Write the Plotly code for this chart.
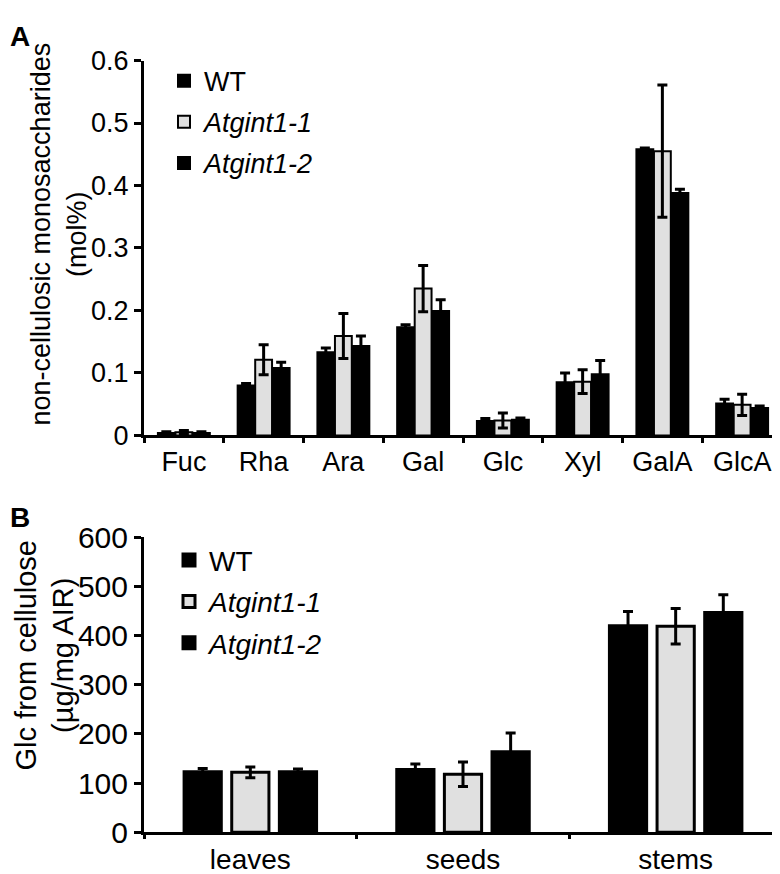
import plotly.graph_objects as go

# ---------------- data ----------------
sugars = ["Fuc", "Rha", "Ara", "Gal", "Glc", "Xyl", "GalA", "GlcA"]
wt_a = [0.004, 0.080, 0.133, 0.173, 0.023, 0.085, 0.458, 0.051]
wt_a_err = [0.002, 0.003, 0.007, 0.004, 0.004, 0.015, 0.002, 0.007]
g11_a = [0.005, 0.121, 0.159, 0.235, 0.024, 0.086, 0.455, 0.049]
g11_a_err = [0.003, 0.024, 0.036, 0.037, 0.012, 0.019, 0.106, 0.017]
g12_a = [0.004, 0.108, 0.143, 0.199, 0.025, 0.098, 0.388, 0.044]
g12_a_err = [0.002, 0.009, 0.016, 0.018, 0.003, 0.022, 0.006, 0.003]

tissues = ["leaves", "seeds", "stems"]
wt_b = [123, 128, 420]
wt_b_err = [7, 11, 29]
g11_b = [122, 118, 419]
g11_b_err = [11, 25, 36]
g12_b = [123, 164, 447]
g12_b_err = [6, 38, 36]

series_names = ["WT", "<i>Atgint1-1</i>", "<i>Atgint1-2</i>"]

# ---------------- style ----------------
FONT = "Arial, Liberation Sans, Helvetica, sans-serif"
BLACK = "#000000"
LIGHT = "#e0e0e0"
colors = [BLACK, LIGHT, BLACK]

fig = go.Figure()

a_vals = [(wt_a, wt_a_err), (g11_a, g11_a_err), (g12_a, g12_a_err)]
for i, (vals, errs) in enumerate(a_vals):
    fig.add_trace(go.Bar(
        x=sugars, y=vals, name=series_names[i],
        marker=dict(color=colors[i], line=dict(color=BLACK, width=2)),
        error_y=dict(type="data", array=errs, color=BLACK, thickness=3, width=5),
        xaxis="x", yaxis="y", legend="legend", legendgroup="a%d" % i,
    ))

b_vals = [(wt_b, wt_b_err), (g11_b, g11_b_err), (g12_b, g12_b_err)]
b_offsets = [-0.3115, -0.0875, 0.1365]
for i, (vals, errs) in enumerate(b_vals):
    fig.add_trace(go.Bar(
        x=tissues, y=vals, name=series_names[i],
        width=0.175, offset=b_offsets[i],
        marker=dict(color=colors[i], line=dict(color=BLACK, width=3)),
        error_y=dict(type="data", array=errs, color=BLACK, thickness=3, width=5),
        xaxis="x2", yaxis="y2", legend="legend2", legendgroup="b%d" % i,
    ))

xdom = [136 / 780, 774 / 780]
axis_common = dict(showline=True, linewidth=3, linecolor=BLACK, ticks="outside",
                   tickwidth=3, tickcolor=BLACK, showgrid=False, zeroline=False,
                   fixedrange=True)

fig.update_layout(
    width=780, height=874,
    margin=dict(l=0, r=0, t=0, b=0),
    paper_bgcolor="white", plot_bgcolor="white",
    font=dict(family=FONT, color=BLACK),
    barmode="group", bargap=0.34, bargroupgap=0.04,
    xaxis=dict(domain=xdom, anchor="y", range=[-0.5, 7.5], tickson="boundaries",
               ticklen=5, tickfont=dict(size=27), **axis_common),
    yaxis=dict(domain=[1 - 427 / 874, 1 - 37 / 874], anchor="x", range=[0, 0.6],
               dtick=0.1, tick0=0, ticklen=7, tickfont=dict(size=27), **axis_common),
    xaxis2=dict(domain=xdom, anchor="y2", range=[-0.5, 2.5], tickson="boundaries",
                ticklen=4, tickfont=dict(size=28), **axis_common),
    yaxis2=dict(domain=[1 - 840 / 874, 1 - 533 / 874], anchor="x2", range=[0, 600],
                dtick=100, tick0=0, ticklen=7, tickfont=dict(size=30), **axis_common),
    legend=dict(x=156 / 780, y=1 - 33 / 874, xanchor="left", yanchor="top",
                font=dict(size=27), tracegroupgap=3, bgcolor="rgba(0,0,0,0)"),
    legend2=dict(x=161 / 780, y=1 - 531 / 874, xanchor="left", yanchor="top",
                 font=dict(size=28), tracegroupgap=2, bgcolor="rgba(0,0,0,0)"),
    annotations=[
        dict(text="<b>A</b>", x=0, y=1 - 12 / 874, xref="paper", yref="paper",
             xanchor="left", yanchor="middle", showarrow=False, font=dict(size=28)),
        dict(text="<b>B</b>", x=0, y=1 - 512 / 874, xref="paper", yref="paper",
             xanchor="left", yanchor="middle", showarrow=False, font=dict(size=28)),
        dict(text="non-cellulosic monosaccharides<br>(mol%)", textangle=-90,
             x=51 / 780, y=1 - 218 / 874, xref="paper", yref="paper",
             xanchor="center", yanchor="middle", showarrow=False, font=dict(size=27)),
        dict(text="Glc from cellulose<br>(µg/mg AIR)", textangle=-90,
             x=37 / 780, y=1 - 656 / 874, xref="paper", yref="paper",
             xanchor="center", yanchor="middle", showarrow=False, font=dict(size=29)),
    ],
)

fig.write_html("out.html")
